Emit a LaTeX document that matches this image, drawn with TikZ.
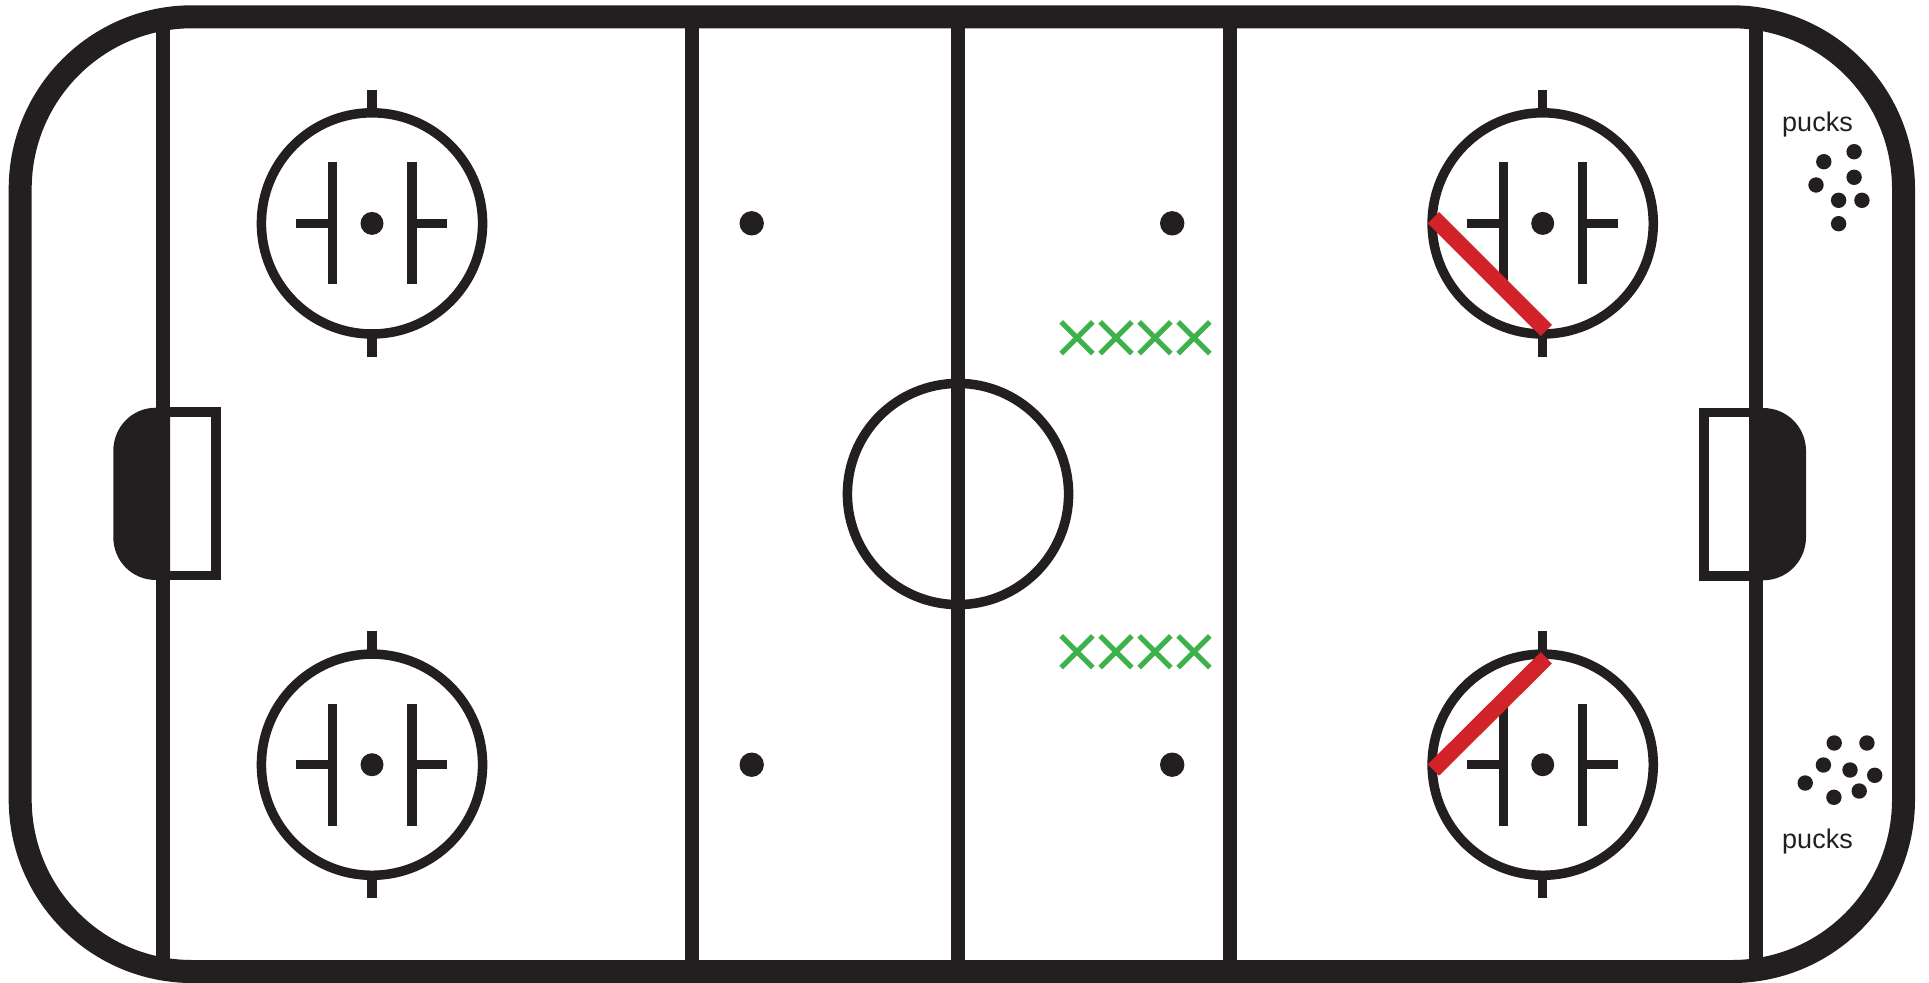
\documentclass[tikz,border=0pt]{standalone}
\usepackage{fontspec}
\setmainfont{Liberation Sans}
\definecolor{ink}{HTML}{231F20}
\definecolor{crimson}{HTML}{D2232A}
\definecolor{grn}{HTML}{3DB14A}
\tikzset{
  rink/.style={draw=ink,line width=23pt,line join=round},
  bar/.style={draw=ink,line width=14pt},
  mark9/.style={draw=ink,line width=9.5pt},
  dotmark/.style={fill=ink,draw=none},
  redbar/.style={draw=crimson,line width=16pt},
  cross/.style={draw=grn,line width=5.2pt},
  lbl/.style={font=\fontsize{27pt}{28pt}\selectfont,text=ink,inner sep=0pt,anchor=base west}
}
\newcommand{\faceoff}[2]{%
  \begin{scope}[shift={(#1,#2)}]
    \draw[mark9] (0,0) circle (110.6);
    \draw[mark9] (0,-133.5) -- (0,-110.5);
    \draw[mark9] (0,110.5) -- (0,133.5);
    \draw[mark9] (-39.3,-61) -- (-39.3,61);
    \draw[mark9] (40,-61) -- (40,61);
    \draw[mark9] (-76,0) -- (-39.3,0);
    \draw[mark9] (40,0) -- (75.3,0);
    \fill[dotmark] (0,0) circle (11.5);
  \end{scope}}
\newcommand{\xmark}[2]{%
  \draw[cross] (#1-15.8,#2-15.8) -- (#1+15.8,#2+15.8);
  \draw[cross] (#1-15.8,#2+15.8) -- (#1+15.8,#2-15.8);}
\begin{document}
\begin{tikzpicture}[x=1pt,y=-1pt]
\useasboundingbox (0,0) rectangle (1929,982);
\fill[white] (0,0) rectangle (1929,982);
% vertical lines
\foreach \xx in {163,691.5,958.1,1230.3,1756.3}
  \draw[bar] (\xx,17) -- (\xx,970);
% rink outline
\draw[rink] (192.2,16.8) -- (1732,16.8)
  .. controls (1827,16.8) and (1903.5,93.8) .. (1903.5,188.8)
  -- (1903.5,799.5)
  .. controls (1903.5,894.5) and (1827,971.5) .. (1732,971.5)
  -- (192.2,971.5)
  .. controls (97.2,971.5) and (20.2,894.5) .. (20.2,799.5)
  -- (20.2,188.8)
  .. controls (20.2,93.8) and (97.2,16.8) .. (192.2,16.8) -- cycle;
% goals
\fill[dotmark] (170,407.7) -- (156,407.7) .. controls (132,407.7) and (113.3,427) .. (113.3,451)
  -- (113.3,537) .. controls (113.3,561) and (132,580) .. (156,580) -- (170,580) -- cycle;
\draw[mark9] (170,412.2) -- (216.2,412.2) -- (216.2,575.5) -- (170,575.5);
\fill[dotmark] (1749.3,408) -- (1763,408) .. controls (1787,408) and (1806,427) .. (1806,451)
  -- (1806,537) .. controls (1806,561) and (1787,580.3) .. (1763,580.3) -- (1749.3,580.3) -- cycle;
\draw[mark9] (1749.3,412.6) -- (1703.8,412.6) -- (1703.8,575.8) -- (1749.3,575.8);
% centre circle
\draw[mark9] (958,494) circle (110.6);
% faceoff circles
\faceoff{372}{223.4}
\faceoff{372}{764.7}
\faceoff{1542.7}{223.4}
\faceoff{1542.7}{764.7}
% red bars
\draw[redbar] (1433.4,217.7) -- (1546.3,330.5);
\draw[redbar] (1433.4,770) -- (1546.3,657.8);
% neutral dots
\foreach \xx/\yy in {751.7/223.3,1172.2/223.3,751.7/764.7,1172.2/764.7}
  \fill[dotmark] (\xx,\yy) circle (12.2);
% green marks
\foreach \xx in {1077,1116,1155,1194}{
  \xmark{\xx}{337.7}
  \xmark{\xx}{651.7}
}
% pucks
\foreach \xx/\yy in {1823.8/161.7,1854.1/151.7,1854.1/177.3,1816/185,1838.6/200.3,1861.9/200.3,1838.6/223.7,
  1834.2/743,1866.9/743,1823.4/765,1850/770,1874.7/775.3,1805.2/783,1859.2/791,1833.9/797.3}
  \fill[dotmark] (\xx,\yy) circle (7.7);
\node[lbl] (pucksA) at (1782,131.5) {pucks};
\node[lbl] (pucksB) at (1782,848) {pucks};
\end{tikzpicture}
\end{document}
